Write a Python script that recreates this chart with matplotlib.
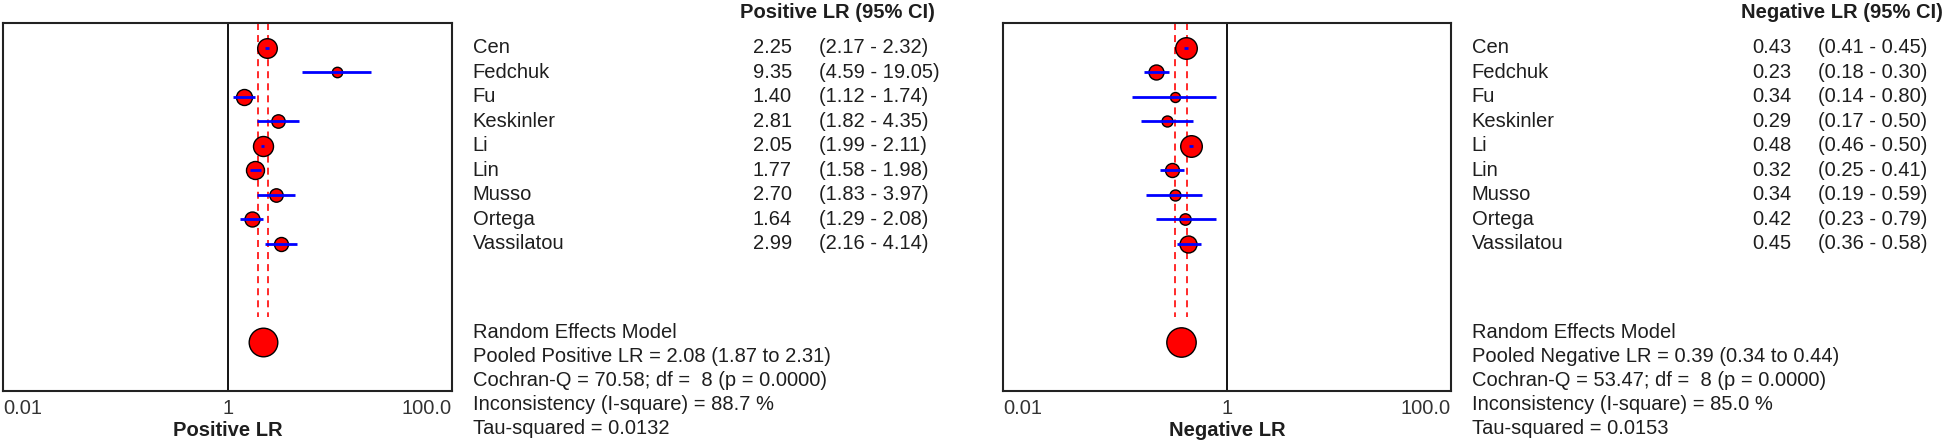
import matplotlib
matplotlib.use("Agg")
import matplotlib.pyplot as plt
from matplotlib.transforms import blended_transform_factory

plt.rcParams['font.family'] = ['Liberation Sans', 'DejaVu Sans']

studies = ['Cen', 'Fedchuk', 'Fu', 'Keskinler', 'Li', 'Lin', 'Musso', 'Ortega', 'Vassilatou']

pos_lr = [2.25, 9.35, 1.40, 2.81, 2.05, 1.77, 2.70, 1.64, 2.99]
pos_lo = [2.17, 4.59, 1.12, 1.82, 1.99, 1.58, 1.83, 1.29, 2.16]
pos_hi = [2.32, 19.05, 1.74, 4.35, 2.11, 1.98, 3.97, 2.08, 4.14]
pos_weight = [9.8, 5.2, 8.0, 6.7, 10.0, 9.0, 6.7, 7.5, 7.0]
pos_pooled = [2.08, 1.87, 2.31]
pos_pooled_weight = 14.3
pos_stats = ['Random Effects Model',
             'Pooled Positive LR = 2.08 (1.87 to 2.31)',
             'Cochran-Q = 70.58; df =  8 (p = 0.0000)',
             'Inconsistency (I-square) = 88.7 %',
             'Tau-squared = 0.0132']

neg_lr = [0.43, 0.23, 0.34, 0.29, 0.48, 0.32, 0.34, 0.42, 0.45]
neg_lo = [0.41, 0.18, 0.14, 0.17, 0.46, 0.25, 0.19, 0.23, 0.36]
neg_hi = [0.45, 0.30, 0.80, 0.50, 0.50, 0.41, 0.59, 0.79, 0.58]
neg_weight = [10.8, 7.5, 5.0, 5.5, 10.8, 7.0, 5.5, 5.7, 8.5]
neg_pooled = [0.39, 0.34, 0.44]
neg_pooled_weight = 14.7
neg_stats = ['Random Effects Model',
             'Pooled Negative LR = 0.39 (0.34 to 0.44)',
             'Cochran-Q = 53.47; df =  8 (p = 0.0000)',
             'Inconsistency (I-square) = 85.0 %',
             'Tau-squared = 0.0153']

tick_vals = [0.01, 1, 100]
tick_labels = ['0.01', '1', '100.0']

W, H = 1946, 446
DPI = 100
fig = plt.figure(figsize=(W / DPI, H / DPI), dpi=DPI)
FS = 14.5
TXT = '#1e1e1e'


def px2pt(r):
    return 2 * r * 72.0 / DPI


def panel(x0, x1, lr, lo, hi, wts, pooled, pooled_w, xlabel, header,
          name_x, val_x, ci_x, header_x, stats):
    top, bot = 23.3, 391.0
    ax = fig.add_axes([x0 / W, 1 - bot / H, (x1 - x0) / W, (bot - top) / H])
    ax.set_xscale('log')
    ax.set_xlim(0.01, 100)
    ax.set_ylim(15, 0)
    ax.axvline(1, color='black', lw=1.3, zorder=1)
    rows = list(range(1, len(lr) + 1))
    for v in pooled[1:]:
        ax.plot([v, v], [0, 12], color='#ff2a2a', lw=1.4, ls=(0, (3.6, 2.6)), zorder=2)
    for y, v, w in zip(rows, lr, wts):
        ax.plot([v], [y], 'o', ms=px2pt(w), mfc='red', mec='black', mew=1.0, zorder=3)
    ax.hlines(rows, lo, hi, color='blue', lw=2, zorder=4)
    ax.plot([pooled[0]], [13], 'o', ms=px2pt(pooled_w), mfc='red', mec='black', mew=1.0, zorder=3)
    for s in ax.spines.values():
        s.set_linewidth(1.5)
        s.set_color('#222222')
    ax.set_yticks([])
    ax.set_xticks(tick_vals)
    ax.set_xticklabels(tick_labels, fontsize=FS, color='#333333')
    ax.xaxis.set_minor_locator(matplotlib.ticker.NullLocator())
    ax.tick_params(axis='x', length=0, pad=6)
    labs = ax.get_xticklabels()
    labs[0].set_ha('left')
    labs[2].set_ha('right')
    ax.set_xlabel(xlabel, fontsize=FS, fontweight='bold', labelpad=2, color=TXT)

    tr = blended_transform_factory(fig.transFigure, ax.transData)
    for y, n, v, l, h in zip(rows, studies, lr, lo, hi):
        fig.text(name_x / W, y, n, transform=tr, fontsize=FS, va='center', ha='left', color=TXT)
        fig.text(val_x / W, y, f'{v:.2f}', transform=tr, fontsize=FS, va='center', ha='right', color=TXT)
        fig.text(ci_x / W, y, f'({l:.2f} - {h:.2f})', transform=tr, fontsize=FS, va='center', ha='left', color=TXT)
    fig.text(header_x / W, 1 - 12 / H, header, fontsize=FS, fontweight='bold', va='center', ha='right', color=TXT)
    for i, s in enumerate(stats):
        fig.text(name_x / W, 1 - (332 + i * 24.1) / H, s, fontsize=FS, va='center', ha='left', color=TXT)
    return ax


panel(3.3, 452, pos_lr, pos_lo, pos_hi, pos_weight, pos_pooled, pos_pooled_weight,
      'Positive LR', 'Positive LR (95% CI)', 472.7, 792, 819, 935, pos_stats)
panel(1003.3, 1451, neg_lr, neg_lo, neg_hi, neg_weight, neg_pooled, neg_pooled_weight,
      'Negative LR', 'Negative LR (95% CI)', 1471.7, 1791.7, 1818, 1943, neg_stats)

fig.savefig('out.png', dpi=DPI)
